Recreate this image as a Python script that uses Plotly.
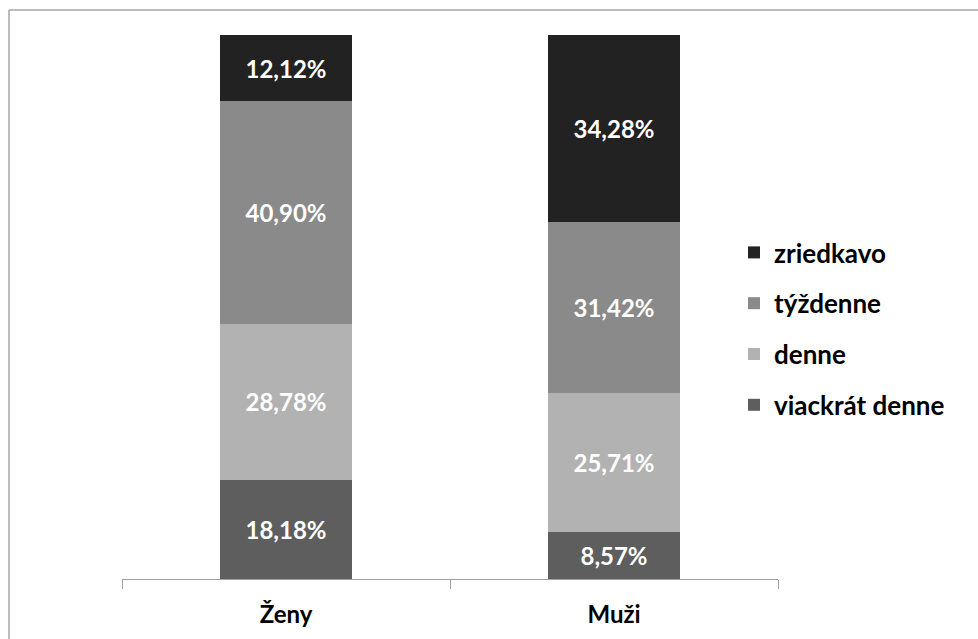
import plotly.graph_objects as go

categories = ["Ženy", "Muži"]
series_names = ["viackrát denne", "denne", "týždenne", "zriedkavo"]
viackrat_denne = [18.18, 8.57]
denne = [28.78, 25.71]
tyzdenne = [40.90, 31.42]
zriedkavo = [12.12, 34.28]
colors = ["#5e5e5e", "#b2b2b2", "#8a8a8a", "#222222"]

series_values = [viackrat_denne, denne, tyzdenne, zriedkavo]

FONT = "Lato"
W, H = 978, 639
L, R, T, B = 122, 200, 35, 60
pw, ph = W - L - R, H - T - B

fig = go.Figure()
for i, (name, vals, col) in enumerate(zip(series_names, series_values, colors)):
    fig.add_trace(go.Bar(
        x=categories, y=vals, name=name,
        marker=dict(color=col, line=dict(width=0)),
        text=[f"{v:.2f}%".replace(".", ",") for v in vals],
        textposition="inside", insidetextanchor="middle",
        textfont=dict(family=FONT, size=24, color="white", weight="bold"),
        legendgroup=name,
        legendrank=len(series_names) - i,
    ))

# outer chart border (top and left visible)
bx = (9 - L) / pw
by = 1 + (T - 10) / ph
fig.add_shape(type="line", xref="paper", yref="paper", x0=bx, x1=(W + 5 - L) / pw, y0=by, y1=by,
              line=dict(color="#a6a6a6", width=1.5))
fig.add_shape(type="line", xref="paper", yref="paper", x0=bx, x1=bx, y0=by, y1=-(B + 5) / ph,
              line=dict(color="#a6a6a6", width=1.5))

fig.update_layout(
    width=W, height=H,
    margin=dict(l=L, r=R, t=T, b=B),
    barmode="stack",
    bargap=0.6,
    plot_bgcolor="white", paper_bgcolor="white",
    showlegend=True,
    legend=dict(
        x=(734 - L) / pw, y=1 - (229 - T) / ph, xanchor="left", yanchor="top",
        traceorder="grouped", tracegroupgap=14,
        font=dict(family=FONT, size=26, color="black", weight="bold"),
        bgcolor="rgba(0,0,0,0)",
    ),
    xaxis=dict(
        showline=True, linecolor="#a0a0a0", linewidth=1,
        ticks="outside", tickson="boundaries", ticklen=9, tickcolor="#a0a0a0", tickwidth=1,
        tickfont=dict(family=FONT, size=24, color="black", weight="bold"),
        ticklabelstandoff=14,
        range=[-0.5, 1.5], fixedrange=True,
    ),
    yaxis=dict(range=[0, 100], visible=False, showgrid=False),
    font=dict(family=FONT),
)

fig.write_html("out.html")
